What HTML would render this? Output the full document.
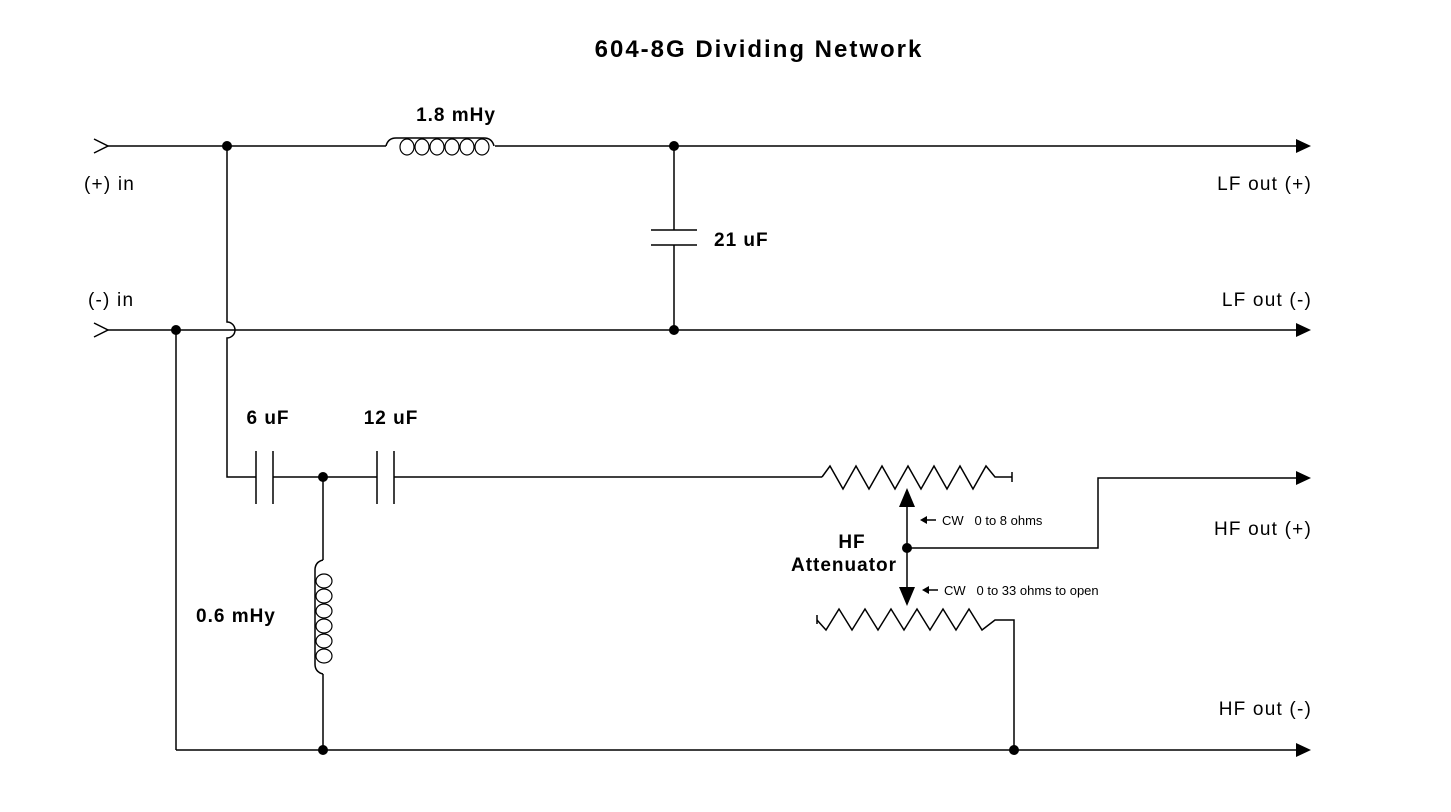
<!DOCTYPE html>
<html><head><style>body{margin:0;background:#fff}svg{display:block}text{font-family:"Liberation Sans",Arial,sans-serif;fill:#000}</style></head>
<body>
<svg width="1451" height="812" viewBox="0 0 1451 812" xmlns="http://www.w3.org/2000/svg">
<g stroke="#000" stroke-width="1.5" fill="none">
<polyline points="94,139 108,146 94,153"/>
<polyline points="94,323 108,330 94,337"/>
<line x1="108" y1="146" x2="386" y2="146"/>
<line x1="495" y1="146" x2="1298" y2="146"/>
<path d="M386,146 q2,-8 10,-8 h88 q8,0 10,8"/>
<g stroke-width="1.2">
<ellipse cx="407" cy="147" rx="7" ry="8"/><ellipse cx="422" cy="147" rx="7" ry="8"/><ellipse cx="437" cy="147" rx="7" ry="8"/><ellipse cx="452" cy="147" rx="7" ry="8"/><ellipse cx="467" cy="147" rx="7" ry="8"/><ellipse cx="482" cy="147" rx="7" ry="8"/>
</g>
<path d="M227,146 V322 a8,8 0 0 1 0,16 V477 H256"/>
<line x1="674" y1="146" x2="674" y2="230"/>
<line x1="651" y1="230" x2="697" y2="230"/>
<line x1="651" y1="245" x2="697" y2="245"/>
<line x1="674" y1="245" x2="674" y2="330"/>
<line x1="108" y1="330" x2="1298" y2="330"/>
<line x1="176" y1="330" x2="176" y2="750"/>
<line x1="176" y1="750" x2="1298" y2="750"/>
<line x1="256" y1="451" x2="256" y2="504"/>
<line x1="273" y1="451" x2="273" y2="504"/>
<line x1="273" y1="477" x2="377" y2="477"/>
<line x1="377" y1="451" x2="377" y2="504"/>
<line x1="394" y1="451" x2="394" y2="504"/>
<line x1="394" y1="477" x2="822" y2="477"/>
<polyline points="822,477 830,466 843,489 856,466 869,489 882,466 895,489 908,466 921,489 934,466 947,489 960,466 973,489 986,466 995,477 1012,477"/>
<line x1="1012" y1="472" x2="1012" y2="482"/>
<line x1="907" y1="500" x2="907" y2="592"/>
<polyline points="907,548 1098,548 1098,478 1298,478"/>
<line x1="817" y1="615" x2="817" y2="624"/>
<polyline points="817,620 826,630 839,609 852,630 865,609 878,630 891,609 904,630 917,609 930,630 943,609 956,630 969,609 982,630 995,620 1014,620 1014,750"/>
<line x1="323" y1="477" x2="323" y2="560"/>
<path d="M323,560 q-8,2 -8,10 v94 q0,8 8,10"/>
<g stroke-width="1.2">
<ellipse cx="324" cy="581" rx="8" ry="7"/><ellipse cx="324" cy="596" rx="8" ry="7"/><ellipse cx="324" cy="611" rx="8" ry="7"/><ellipse cx="324" cy="626" rx="8" ry="7"/><ellipse cx="324" cy="641" rx="8" ry="7"/><ellipse cx="324" cy="656" rx="8" ry="7"/>
</g>
<line x1="323" y1="674" x2="323" y2="750"/>
<line x1="924" y1="520" x2="936" y2="520"/>
<line x1="926" y1="590" x2="938" y2="590"/>
</g>
<g fill="#000">
<circle cx="227" cy="146" r="5"/><circle cx="674" cy="146" r="5"/><circle cx="674" cy="330" r="5"/><circle cx="176" cy="330" r="5"/>
<circle cx="323" cy="477" r="5"/><circle cx="907" cy="548" r="5"/><circle cx="323" cy="750" r="5"/><circle cx="1014" cy="750" r="5"/>
<polygon points="1296,139 1311,146 1296,153"/><polygon points="1296,323 1311,330 1296,337"/><polygon points="1296,471 1311,478 1296,485"/><polygon points="1296,743 1311,750 1296,757"/>
<polygon points="907,488 899,507 915,507"/><polygon points="907,606 899,587 915,587"/>
<polygon points="920,520 927,516 927,524"/><polygon points="922,590 929,586 929,594"/>
</g>
<g font-weight="bold">
<text x="759" y="57" font-size="24" letter-spacing="2" text-anchor="middle">604-8G Dividing Network</text>
<g font-size="19" letter-spacing="1">
<text x="456" y="121" text-anchor="middle">1.8 mHy</text>
<text x="714" y="246">21 uF</text>
<text x="268" y="424" text-anchor="middle">6 uF</text>
<text x="391" y="424" text-anchor="middle">12 uF</text>
<text x="196" y="622">0.6 mHy</text>
<text x="852" y="548" text-anchor="middle">HF</text>
<text x="844" y="571" text-anchor="middle">Attenuator</text>
</g>
</g>
<g font-size="19" letter-spacing="1.2">
<text x="84" y="190">(+) in</text>
<text x="88" y="306">(-) in</text>
<text x="1312" y="190" text-anchor="end">LF out (+)</text>
<text x="1312" y="306" text-anchor="end">LF out (-)</text>
<text x="1312" y="535" text-anchor="end">HF out (+)</text>
<text x="1312" y="715" text-anchor="end">HF out (-)</text>
</g>
<g font-size="13">
<text x="942" y="525">CW&#160;&#160;&#160;0 to 8 ohms</text>
<text x="944" y="595">CW&#160;&#160;&#160;0 to 33 ohms to open</text>
</g>
</svg>
</body></html>
